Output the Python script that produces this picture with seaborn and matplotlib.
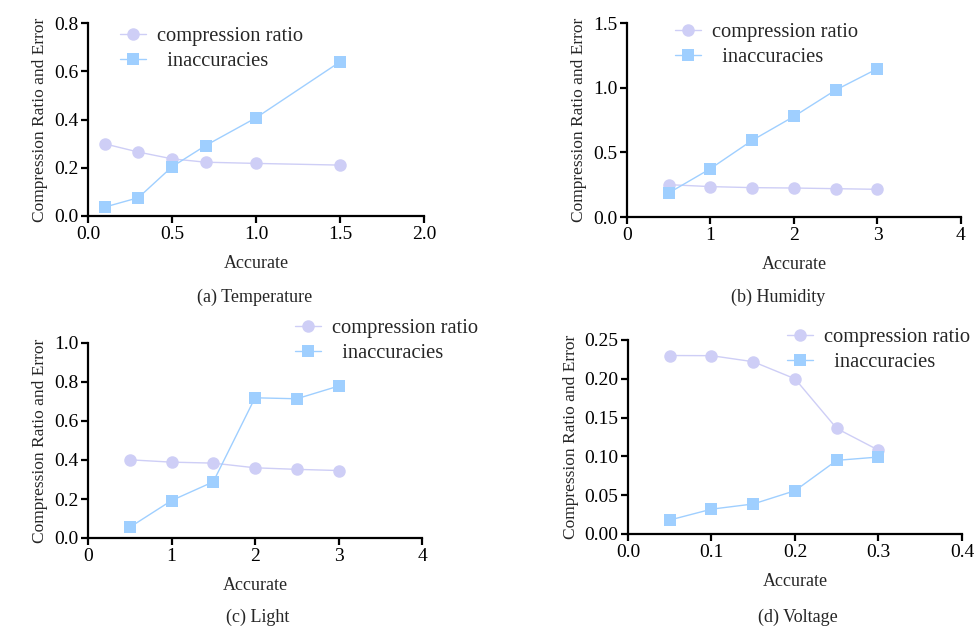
import matplotlib
matplotlib.use("Agg")
import matplotlib.pyplot as plt
import seaborn as sns
import pandas as pd

# ---- data ----
temp_x = [0.1, 0.3, 0.5, 0.7, 1.0, 1.5]
temp_ratio = [0.299, 0.265, 0.237, 0.223, 0.218, 0.211]
temp_err = [0.037, 0.076, 0.204, 0.292, 0.407, 0.639]

hum_x = [0.5, 1.0, 1.5, 2.0, 2.5, 3.0]
hum_ratio = [0.250, 0.235, 0.227, 0.224, 0.219, 0.214]
hum_err = [0.186, 0.374, 0.593, 0.778, 0.982, 1.147]

light_x = [0.5, 1.0, 1.5, 2.0, 2.5, 3.0]
light_ratio = [0.401, 0.389, 0.384, 0.360, 0.352, 0.346]
light_err = [0.055, 0.192, 0.288, 0.719, 0.714, 0.779]

volt_x = [0.05, 0.10, 0.15, 0.20, 0.25, 0.30]
volt_ratio = [0.230, 0.2298, 0.222, 0.200, 0.136, 0.108]
volt_err = [0.018, 0.032, 0.0387, 0.0558, 0.0949, 0.0992]

captions = ["(a) Temperature", "(b) Humidity", "(c) Light", "(d) Voltage"]
series_names = ["compression ratio", "  inaccuracies"]
x_label = "Accurate"
y_label = "Compression Ratio and Error"

x_ticks = [[0.0, 0.5, 1.0, 1.5, 2.0], [0, 1, 2, 3, 4], [0, 1, 2, 3, 4], [0.0, 0.1, 0.2, 0.3, 0.4]]
y_ticks = [[0.0, 0.2, 0.4, 0.6, 0.8], [0.0, 0.5, 1.0, 1.5], [0.0, 0.2, 0.4, 0.6, 0.8, 1.0],
           [0.00, 0.05, 0.10, 0.15, 0.20, 0.25]]
x_fmt = ["{:.1f}", "{:d}", "{:d}", "{:.1f}"]
y_fmt = ["{:.1f}", "{:.1f}", "{:.1f}", "{:.2f}"]

panels = [
    (temp_x, temp_ratio, temp_err),
    (hum_x, hum_ratio, hum_err),
    (light_x, light_ratio, light_err),
    (volt_x, volt_ratio, volt_err),
]

# ---- style ----
sns.set_theme(style="ticks")
plt.rcParams["font.family"] = ["Liberation Serif", "DejaVu Serif"]
plt.rcParams["axes.linewidth"] = 1.6
plt.rcParams["xtick.major.width"] = 1.6
plt.rcParams["ytick.major.width"] = 1.6
plt.rcParams["xtick.major.size"] = 5
plt.rcParams["ytick.major.size"] = 5

c_ratio = "#CECEF6"
c_err = "#9FCFFF"

fig = plt.figure(figsize=(9.78, 6.27), dpi=100)
W, H = 978, 627

# axes boxes in pixels: left, right, top, bottom
boxes = [
    (88, 424, 23, 216),
    (627, 961, 23, 217),
    (88, 422, 343, 538),
    (628, 962, 340, 534),
]
legend_pos = [(120, 27), (675, 23), (295, 319), (787, 328)]
caption_pos = [(255, 297), (778, 297), (258, 617), (798, 617)]

for i, ((xs, r, e), (l, rgt, t, b)) in enumerate(zip(panels, boxes)):
    ax = fig.add_axes([l / W, 1 - b / H, (rgt - l) / W, (b - t) / H])
    df = pd.DataFrame({"x": xs + xs,
                       "y": r + e,
                       "s": [series_names[0]] * len(xs) + [series_names[1]] * len(xs)})
    sns.lineplot(data=df[df.s == series_names[0]], x="x", y="y", ax=ax, color=c_ratio,
                 marker="o", markersize=9, markeredgewidth=0, linewidth=1.0,
                 label=series_names[0], clip_on=False)
    sns.lineplot(data=df[df.s == series_names[1]], x="x", y="y", ax=ax, color=c_err,
                 marker="s", markersize=8.5, markeredgewidth=0, linewidth=1.0,
                 label=series_names[1], clip_on=False)
    ax.set_xlim(x_ticks[i][0], x_ticks[i][-1])
    ax.set_ylim(y_ticks[i][0], y_ticks[i][-1])
    ax.set_xticks(x_ticks[i])
    ax.set_xticklabels([x_fmt[i].format(v) for v in x_ticks[i]], fontsize=14)
    ax.set_yticks(y_ticks[i])
    ax.set_yticklabels([y_fmt[i].format(v) for v in y_ticks[i]], fontsize=14)
    ax.tick_params(colors="black", pad=2)
    for sp in ["top", "right"]:
        ax.spines[sp].set_visible(False)
    for sp in ["left", "bottom"]:
        ax.spines[sp].set_color("black")
    ax.set_xlabel(x_label, fontsize=13, labelpad=9)
    ax.set_ylabel(y_label, fontsize=12.5, labelpad=4)
    lx, ly = legend_pos[i]
    ax.legend(loc="upper left", bbox_to_anchor=(lx / W, 1 - ly / H),
              bbox_transform=fig.transFigure, frameon=False, fontsize=14.8,
              handlelength=1.25, labelspacing=0.25, borderaxespad=0, borderpad=0,
              handletextpad=0.55)
    cx, cy = caption_pos[i]
    fig.text(cx / W, 1 - cy / H, captions[i], ha="center", va="center", fontsize=13)

fig.savefig("out.png", dpi=100)
